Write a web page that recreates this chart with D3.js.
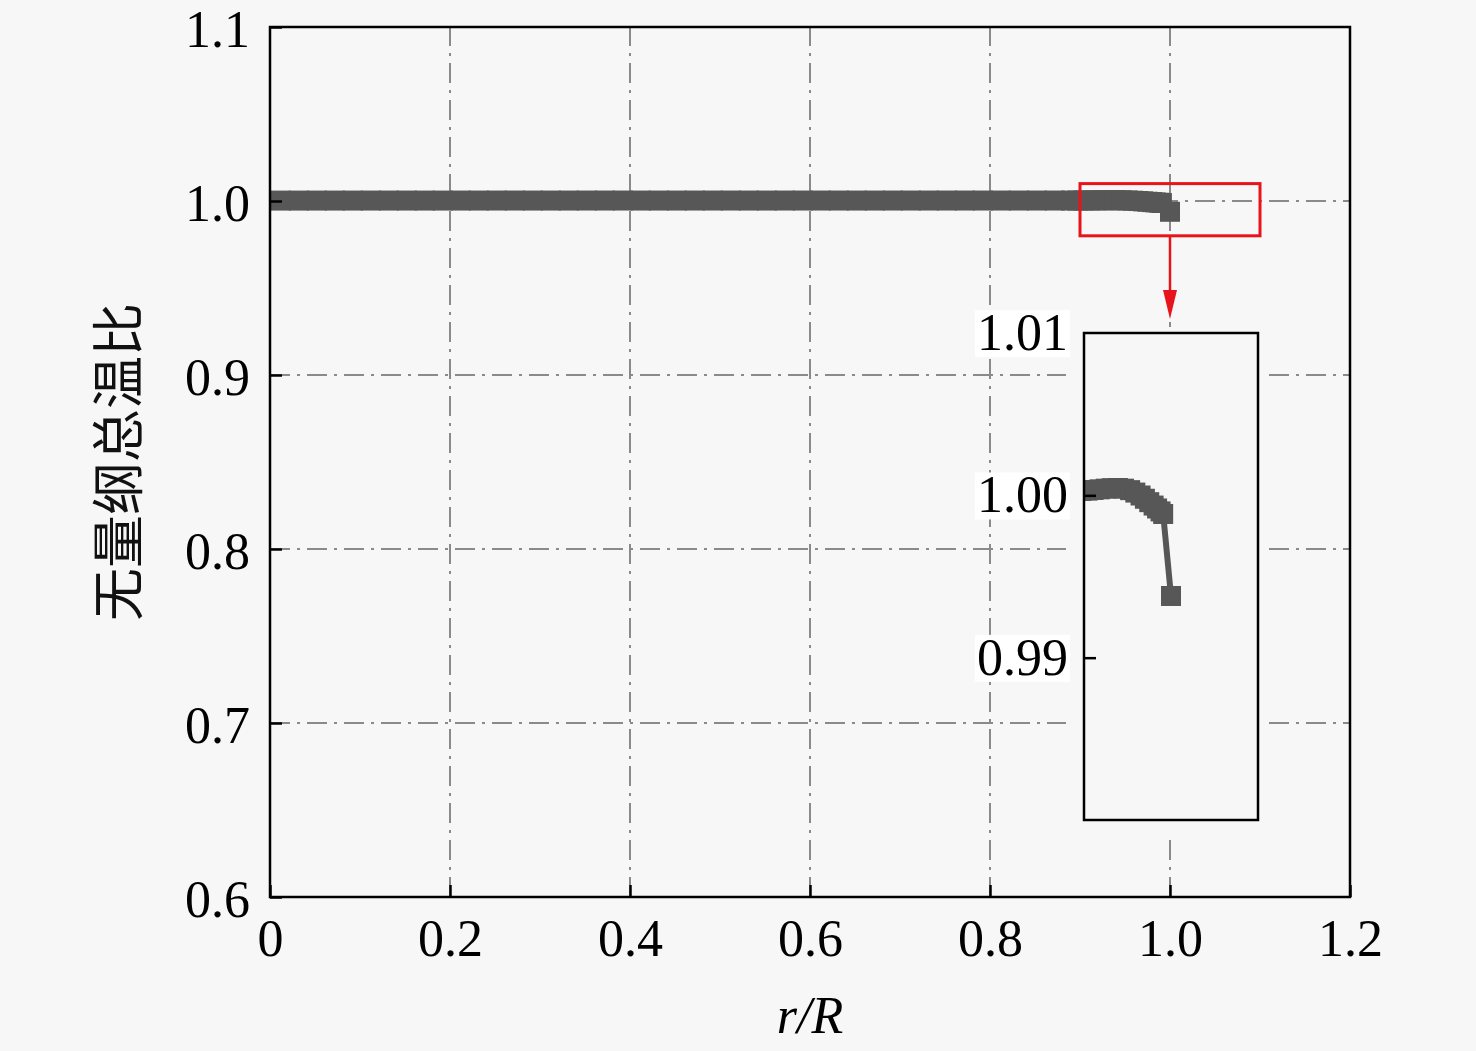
<!DOCTYPE html>
<html><head><meta charset="utf-8">
<script src="https://cdn.jsdelivr.net/npm/d3@7"></script>
<style>html,body{margin:0;padding:0;background:#f7f7f7;}</style>
</head><body><svg id="c" width="1476" height="1051"></svg>
<script>
// ---- data ----
const rRatio = [
  0.012,0.032,0.052,0.072,0.092,0.112,0.132,0.152,0.172,0.192,
  0.212,0.232,0.252,0.272,0.292,0.312,0.332,0.352,0.372,0.392,
  0.412,0.432,0.452,0.472,0.492,0.512,0.532,0.552,0.572,0.592,
  0.612,0.632,0.652,0.672,0.692,0.712,0.732,0.752,0.772,0.792,
  0.812,0.832,0.852,0.872,
  0.890,0.897,0.904,0.911,0.918,0.925,0.932,0.939,0.946,0.953,
  0.959,0.965,0.970,0.975,0.980,0.984,0.988,0.991,1.000
];
const totalTempRatio = [
  1.00024,1.00024,1.00025,1.00025,1.00025,1.00026,1.00026,1.00026,1.00025,1.00025,
  1.00026,1.00026,1.00027,1.00027,1.00026,1.00026,1.00026,1.00027,1.00027,1.00027,
  1.00026,1.00026,1.00026,1.00027,1.00027,1.00027,1.00026,1.00026,1.00027,1.00027,
  1.00027,1.00027,1.00026,1.00026,1.00027,1.00027,1.00027,1.00027,1.00027,1.00027,
  1.00027,1.00027,1.00027,1.00027,
  1.00026,1.00027,1.00029,1.00033,1.00037,1.00041,1.00044,1.00045,1.00041,1.00032,
  1.00017,0.99999,0.99979,0.99958,0.99937,0.99919,0.99901,0.99885,0.99380
];
const xTickValues = [0,0.2,0.4,0.6,0.8,1.0,1.2];
const xTickLabels = ["0","0.2","0.4","0.6","0.8","1.0","1.2"];
const yTickValues = [0.6,0.7,0.8,0.9,1.0,1.1];
const yTickLabels = ["0.6","0.7","0.8","0.9","1.0","1.1"];
const xGridValues = [0.2,0.4,0.6,0.8,1.0];
const yGridValues = [0.7,0.8,0.9,1.0];
const zoomXDomain = [0.9,1.1];
const zoomYDomain = [0.98,1.01];
const insetYTickValues = [0.99,1.00,1.01];
const insetYTickLabels = ["0.99","1.00","1.01"];
const xTitle = "r/R";
const yTitle = "无量纲总温比";

// ---- layout ----
const BG = "#f7f7f7";
const SERIF = "'Liberation Serif','Times New Roman',serif";
const P = {l:270, r:1350, t:27, b:897};
const I = {l:1084, r:1258, t:333, b:820};
const DATA_COLOR = "#575757";

const svg = d3.select("#c");
svg.append("rect").attr("width",1476).attr("height",1051).attr("fill",BG);

const x = d3.scaleLinear().domain([0,1.2]).range([P.l,P.r]);
const y = d3.scaleLinear().domain([0.6,1.1]).range([P.b,P.t]);
const pts = rRatio.map((r,i)=>({r, v: totalTempRatio[i]}));

// grid
const gridStyle = s => s.attr("stroke","#8a8a8a").attr("stroke-width",2)
  .attr("stroke-dasharray","20,7,3,7").attr("fill","none");
svg.append("g").selectAll("line").data(xGridValues).join("line")
  .attr("x1",d=>x(d)).attr("x2",d=>x(d)).attr("y1",P.b).attr("y2",P.t).call(gridStyle);
svg.append("g").selectAll("line").data(yGridValues).join("line")
  .attr("y1",d=>y(d)).attr("y2",d=>y(d)).attr("x1",P.l).attr("x2",P.r).call(gridStyle);

// main data
const defs = svg.append("defs");
defs.append("clipPath").attr("id","pclip").append("rect")
  .attr("x",P.l).attr("y",P.t).attr("width",P.r-P.l).attr("height",P.b-P.t);
const gm = svg.append("g").attr("clip-path","url(#pclip)");
gm.append("path").datum(pts)
  .attr("d", d3.line().x(d=>x(d.r)).y(d=>y(d.v)))
  .attr("fill","none").attr("stroke",DATA_COLOR).attr("stroke-width",6);
const MS = 20;
gm.selectAll("rect.m").data(pts).join("rect").attr("class","m")
  .attr("x",d=>x(d.r)-MS/2).attr("y",d=>y(d.v)-MS/2)
  .attr("width",MS).attr("height",MS).attr("fill",DATA_COLOR);

// frame + axes
svg.append("rect").attr("x",P.l).attr("y",P.t).attr("width",P.r-P.l).attr("height",P.b-P.t)
  .attr("fill","none").attr("stroke","#000").attr("stroke-width",2.5);

const xAxis = d3.axisBottom(x).tickValues(xTickValues)
  .tickFormat((d,i)=>xTickLabels[i]).tickSize(-12).tickPadding(22);
const gx = svg.append("g").attr("transform",`translate(0,${P.b})`).call(xAxis);
const yAxis = d3.axisLeft(y).tickValues(yTickValues)
  .tickFormat((d,i)=>yTickLabels[i]).tickSize(-12).tickPadding(20);
const gy = svg.append("g").attr("transform",`translate(${P.l},0)`).call(yAxis);
[gx,gy].forEach(g=>{
  g.select(".domain").remove();
  g.selectAll(".tick line").attr("stroke","#000").attr("stroke-width",2.5);
  g.selectAll(".tick text").attr("fill","#000").style("font-family",SERIF).style("font-size","52px");
});
gy.selectAll(".tick text").attr("dy","0.38em");

// titles
svg.append("text").attr("x",(P.l+P.r)/2).attr("y",1033).attr("text-anchor","middle")
  .style("font-family",SERIF).style("font-size","52px").style("font-style","italic")
  .text(xTitle);
svg.append("text").attr("transform","translate(138,462) rotate(-90)").attr("text-anchor","middle")
  .style("font-family","'Noto Sans CJK SC',sans-serif").style("font-size","53px").style("font-weight","400")
  .attr("fill","#111").text(yTitle);

// zoom rectangle in main plot
svg.append("rect")
  .attr("x",x(zoomXDomain[0])).attr("y",y(zoomYDomain[1]))
  .attr("width",x(zoomXDomain[1])-x(zoomXDomain[0]))
  .attr("height",y(zoomYDomain[0])-y(zoomYDomain[1]))
  .attr("fill","none").attr("stroke","#e8141c").attr("stroke-width",3);

// arrow
const ax = x(1.0);
svg.append("line").attr("x1",ax).attr("x2",ax).attr("y1",y(zoomYDomain[0])).attr("y2",296)
  .attr("stroke","#e8141c").attr("stroke-width",2.5);
svg.append("path").attr("d",`M${ax-7},290 L${ax+7},290 L${ax},319 Z`).attr("fill","#e8141c");

// ---- inset ----
const xi = d3.scaleLinear().domain(zoomXDomain).range([I.l,I.r]);
const yi = d3.scaleLinear().domain(zoomYDomain).range([I.b,I.t]);
svg.append("rect").attr("x",I.l-18).attr("y",I.t-6).attr("width",I.r-I.l+25).attr("height",I.b-I.t+20)
  .attr("fill",BG);
defs.append("clipPath").attr("id","iclip").append("rect")
  .attr("x",I.l).attr("y",I.t).attr("width",I.r-I.l).attr("height",I.b-I.t);
const gi = svg.append("g").attr("clip-path","url(#iclip)");
gi.append("path").datum(pts)
  .attr("d", d3.line().x(d=>xi(d.r)).y(d=>yi(d.v)))
  .attr("fill","none").attr("stroke",DATA_COLOR).attr("stroke-width",6);
gi.selectAll("rect.m").data(pts).join("rect").attr("class","m")
  .attr("x",d=>xi(d.r)-MS/2).attr("y",d=>yi(d.v)-MS/2)
  .attr("width",MS).attr("height",MS).attr("fill",DATA_COLOR);
svg.append("rect").attr("x",I.l).attr("y",I.t).attr("width",I.r-I.l).attr("height",I.b-I.t)
  .attr("fill","none").attr("stroke","#000").attr("stroke-width",2.5);

const yiAxis = d3.axisLeft(yi).tickValues(insetYTickValues)
  .tickFormat((d,i)=>insetYTickLabels[i]).tickSize(-12).tickPadding(16);
const gyi = svg.append("g").attr("transform",`translate(${I.l},0)`).call(yiAxis);
gyi.select(".domain").remove();
gyi.selectAll(".tick line").attr("stroke","#000").attr("stroke-width",2.5)
  .attr("display",d=>d>=zoomYDomain[1]?"none":null);
gyi.selectAll(".tick text").attr("fill","#000").style("font-family",SERIF).style("font-size","52px");
gyi.selectAll(".tick").each(function(){
  const t = d3.select(this).select("text");
  const bb = t.node().getBBox();
  d3.select(this).insert("rect","text").attr("x",bb.x-2).attr("y",bb.y+6)
    .attr("width",bb.width+4).attr("height",bb.height-10).attr("fill","#ffffff");
});
</script></body></html>
